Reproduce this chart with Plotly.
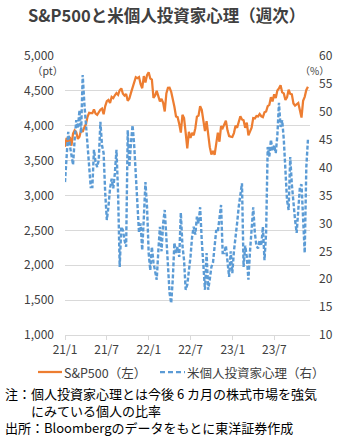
import pandas as pd
import plotly.graph_objects as go

# ---- data ----
dates = pd.date_range("2021-01-01", periods=152, freq="7D")

sp500 = [3700,
    3825, 3768, 3841, 3714, 3887, 3934, 3907, 3811, 3842, 3943,
    3913, 3975, 4020, 4129, 4185, 4180, 4181, 4233, 4174, 4156,
    4204, 4230, 4247, 4166, 4281, 4352, 4370, 4327, 4412, 4395,
    4437, 4468, 4442, 4509, 4535, 4459, 4433, 4455, 4357, 4391,
    4471, 4545, 4605, 4697, 4683, 4698, 4595, 4538, 4712, 4620,
    4726, 4766,
    4677, 4662, 4398, 4432, 4501, 4419, 4349, 4385, 4329, 4204,
    4463, 4543, 4546, 4488, 4393, 4272, 4132, 4123, 4024, 3901,
    4158, 4109, 3901, 3675, 3912, 3825, 3899, 3863, 3962, 4130,
    4145, 4280, 4228, 4058, 3924, 4067, 3873, 3693, 3586, 3640,
    3583, 3752, 3901, 3771, 3993, 3965, 4026, 4072, 3934, 3852,
    3845, 3840,
    3895, 3999, 3973, 4071, 4136, 4090, 4079, 3970, 4046, 3862,
    3917, 3971, 4109, 4105, 4138, 4133, 4169, 4136, 4124, 4192,
    4205, 4282, 4299, 4410, 4348, 4450, 4399, 4505, 4536, 4582,
    4478, 4464, 4370, 4406, 4516, 4457, 4450, 4320, 4288, 4308,
    4327, 4224, 4117, 4358, 4415, 4514, 4559]

sentiment = [
    37.4, 42.0, 46.4, 44.0, 42.0, 40.5, 45.0, 48.5, 47.0, 50.3,
    46.2, 56.6, 51.6, 48.0, 44.4, 41.4, 36.5, 36.5, 43.2, 41.0,
    40.1, 41.4, 48.2, 44.0, 42.6, 35.4, 30.6, 33.0, 36.3, 38.0,
    36.3, 39.0, 43.2, 35.4, 22.2, 29.4, 28.8, 27.0, 25.8, 46.7,
    40.1, 44.4, 47.6, 44.0, 39.0, 35.4, 28.3, 30.0, 25.2, 31.0,
    37.4, 32.9, 24.7, 21.6, 25.8, 23.0, 21.0, 19.9, 25.0, 29.4,
    25.0, 30.0, 32.4, 28.0, 22.0, 17.5, 15.7, 20.0, 26.5, 24.7,
    25.8, 24.0, 31.9, 26.0, 23.4, 18.1, 19.0, 21.1, 24.0, 27.6,
    29.4, 28.0, 31.2, 30.0, 32.9, 27.0, 21.6, 18.1, 24.7, 18.1,
    20.0, 22.2, 23.0, 26.0, 28.8, 28.5, 31.0, 33.3, 24.7, 24.7,
    26.0, 23.4, 20.4, 25.0, 21.1, 25.0, 28.3, 30.1, 33.0, 35.4,
    37.2, 22.2, 26.0, 24.0, 19.9, 25.0, 29.0, 32.9, 28.3, 26.0,
    25.5, 27.0, 26.0, 29.4, 23.4, 28.3, 43.7, 42.0, 45.0, 43.0,
    44.0, 42.6, 45.8, 51.6, 47.3, 48.5, 45.0, 40.0, 34.2, 32.4,
    41.9, 37.0, 33.0, 30.6, 28.3, 33.0, 36.5, 37.0, 31.0, 24.7,
    40.1, 45.0]

tick_dates = ["2021-01-01", "2021-07-01", "2022-01-01", "2022-07-01", "2023-01-01", "2023-07-01"]
tick_text = ["21/1", "21/7", "22/1", "22/7", "23/1", "23/7"]

title = "S&P500と米個人投資家心理（週次）"
name_sp = "S&P500（左）"
name_sent = "米個人投資家心理（右）"
notes = ["注：個人投資家心理とは今後 6 カ月の株式市場を強気",
         "にみている個人の比率",
         "出所：Bloombergのデータをもとに東洋証券作成"]

FONT = "Noto Sans CJK JP"
W, H = 340, 436
L, R, T, B = 65, 30, 56, 101
PW, PH = W - L - R, H - T - B
C_SP, C_SENT = "#ED7D31", "#5B9BD5"

def px(xp):
    return (xp - L) / PW

def py(yp):
    return (H - B - yp) / PH

fig = go.Figure()
fig.add_trace(go.Scatter(x=dates, y=sp500, name=name_sp, mode="lines",
                         line=dict(color=C_SP, width=2.25)))
fig.add_trace(go.Scatter(x=dates, y=sentiment, name=name_sent, mode="lines", yaxis="y2",
                         line=dict(color=C_SENT, width=2.4, dash="4px,2px")))

fig.update_layout(
    width=W, height=H,
    margin=dict(l=L, r=R, t=T, b=B, pad=0, autoexpand=False),
    paper_bgcolor="white", plot_bgcolor="white",
    font=dict(family=FONT, size=12, color="#404040"),
    xaxis=dict(type="date", range=["2021-01-01", "2023-12-03"],
               tickvals=tick_dates, ticktext=tick_text,
               showgrid=False, showline=True, linecolor="#D9D9D9", linewidth=1,
               ticks="outside", ticklen=4, tickcolor="#D9D9D9",
               tickfont=dict(size=12, color="#404040"), zeroline=False),
    yaxis=dict(range=[1000, 5000], dtick=500, tickformat=",",
               showgrid=True, gridcolor="#D9D9D9", gridwidth=1, zeroline=False,
               ticks="", ticklabelstandoff=10,
               tickfont=dict(size=12, color="#404040")),
    yaxis2=dict(range=[10, 60], dtick=5, overlaying="y", side="right",
                showgrid=False, zeroline=False, ticks="", ticklabelstandoff=8,
                tickfont=dict(size=12, color="#404040")),
    showlegend=False,
)

# manual legend (line samples + labels)
leg_y = py(372)
shapes = [
    dict(type="line", xref="paper", yref="paper", x0=px(38), x1=px(62), y0=leg_y, y1=leg_y,
         line=dict(color=C_SP, width=2.25)),
    dict(type="line", xref="paper", yref="paper", x0=px(160), x1=px(185), y0=leg_y, y1=leg_y,
         line=dict(color=C_SENT, width=2.25, dash="5px,3px")),
]
fig.update_layout(shapes=shapes)

annotations = [
    dict(text="<b>" + title + "</b>", x=px(166), y=py(15), xanchor="center", yanchor="middle",
         font=dict(size=16.5, color="#404040")),
    dict(text=name_sp, x=px(63), y=leg_y, xanchor="left", yanchor="middle",
         font=dict(size=12.5, color="#404040")),
    dict(text=name_sent, x=px(186), y=leg_y, xanchor="left", yanchor="middle",
         font=dict(size=12.5, color="#404040")),
    dict(text="（pt）", x=px(64), y=py(70.3), xanchor="right", yanchor="middle",
         font=dict(size=10.5, color="#404040")),
    dict(text="（%）", x=px(299), y=py(70), xanchor="left", yanchor="middle",
         font=dict(size=10, color="#404040")),
    dict(text=notes[0], x=px(4), y=py(393), xanchor="left", yanchor="middle",
         font=dict(size=13, color="#000000")),
    dict(text=notes[1], x=px(30), y=py(410), xanchor="left", yanchor="middle",
         font=dict(size=13, color="#000000")),
    dict(text=notes[2], x=px(4), y=py(427), xanchor="left", yanchor="middle",
         font=dict(size=13, color="#000000")),
]
for a in annotations:
    a.update(xref="paper", yref="paper", showarrow=False, borderpad=0)
fig.update_layout(annotations=annotations)

fig.write_html("out.html")
